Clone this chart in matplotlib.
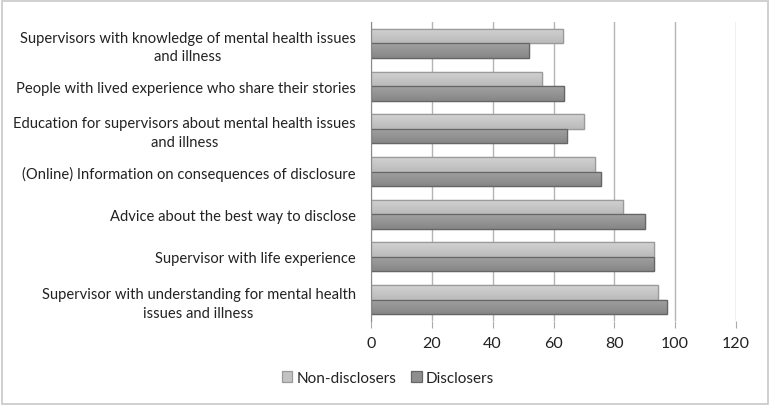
import matplotlib
matplotlib.use("Agg")
import matplotlib.pyplot as plt
import numpy as np
from matplotlib.patches import Rectangle
from matplotlib.colors import LinearSegmentedColormap

categories = [
    "Supervisors with knowledge of mental health issues\nand illness",
    "People with lived experience who share their stories",
    "Education for supervisors about mental health issues\nand illness",
    "(Online) Information on consequences of disclosure",
    "Advice about the best way to disclose",
    "Supervisor with life experience",
    "Supervisor with understanding for mental health\nissues and illness",
]
non_disclosers = [63, 56.3, 70.1, 73.6, 82.7, 93.0, 94.4]
disclosers = [52.1, 63.4, 64.4, 75.7, 90.0, 93.0, 97.3]
xticks = [0, 20, 40, 60, 80, 100, 120]

plt.rcParams['font.family'] = ['Lato', 'DejaVu Sans']

fig = plt.figure(figsize=(7.69, 4.06), dpi=100)
ax = fig.add_axes([371/769, 1-322/406, (736-371)/769, (322-23)/406])

n = len(categories)
y = np.arange(n)[::-1].astype(float)
h = 0.34
b1 = ax.barh(y + h/2, non_disclosers, height=h, color='#c3c3c3', edgecolor='#9a9a9a', linewidth=0.9,
             label='Non-disclosers', zorder=3)
b2 = ax.barh(y - h/2, disclosers, height=h, color='#8e8e8e', edgecolor='#666666', linewidth=0.9,
             label='Disclosers', zorder=3)

ax.set_xlim(0, 120)
ax.set_ylim(-0.5, n - 0.5)

cm_light = LinearSegmentedColormap.from_list('l', ['#bababa', '#d2d2d2'])
cm_dark = LinearSegmentedColormap.from_list('d', ['#868686', '#a2a2a2'])
grad = np.linspace(0, 1, 64).reshape(-1, 1)
for bars, cm in [(b1, cm_light), (b2, cm_dark)]:
    for r in bars:
        x0, y0 = r.get_x(), r.get_y()
        w, hh = r.get_width(), r.get_height()
        im = ax.imshow(grad, cmap=cm, aspect='auto', origin='lower',
                       extent=[x0, x0 + w, y0, y0 + hh], zorder=3.5, interpolation='bicubic')
        im.set_clip_path(r)
        edge = Rectangle((x0, y0), w, hh, fill=False, edgecolor=r.get_edgecolor(),
                         linewidth=0.9, zorder=3.6)
        ax.add_patch(edge)
ax.set_xlim(0, 120)
ax.set_ylim(-0.5, n - 0.5)

ax.set_xticks(xticks)
ax.set_xticklabels([str(t) for t in xticks], fontsize=11.5, color='#222222')
ax.set_yticks(y)
ax.set_yticklabels(categories, fontsize=10.6, color='#222222', ma='center', linespacing=1.4)
ax.tick_params(axis='y', length=0, pad=11)
ax.tick_params(axis='x', length=5, color='#aaaaaa', pad=6)
ax.grid(axis='x', color='#b4b4b4', linewidth=1, zorder=0)
for s in ['top', 'right', 'bottom']:
    ax.spines[s].set_visible(False)
ax.spines['left'].set_color('#8a8a8a')
ax.spines['left'].set_zorder(4)

leg = fig.legend(loc='center', bbox_to_anchor=(388/769, 1-379/406), ncol=2, frameon=False,
                 fontsize=11, handlelength=0.7, handleheight=0.7, handletextpad=0.25,
                 columnspacing=1.0)
for t in leg.get_texts():
    t.set_color('#222222')

fig.patches.append(Rectangle((1.5/769, 1.5/406), 1-3/769, 1-3/406, transform=fig.transFigure,
                             fill=False, edgecolor='#c8c8c8', linewidth=1.2))

fig.savefig('out.png', dpi=100)
